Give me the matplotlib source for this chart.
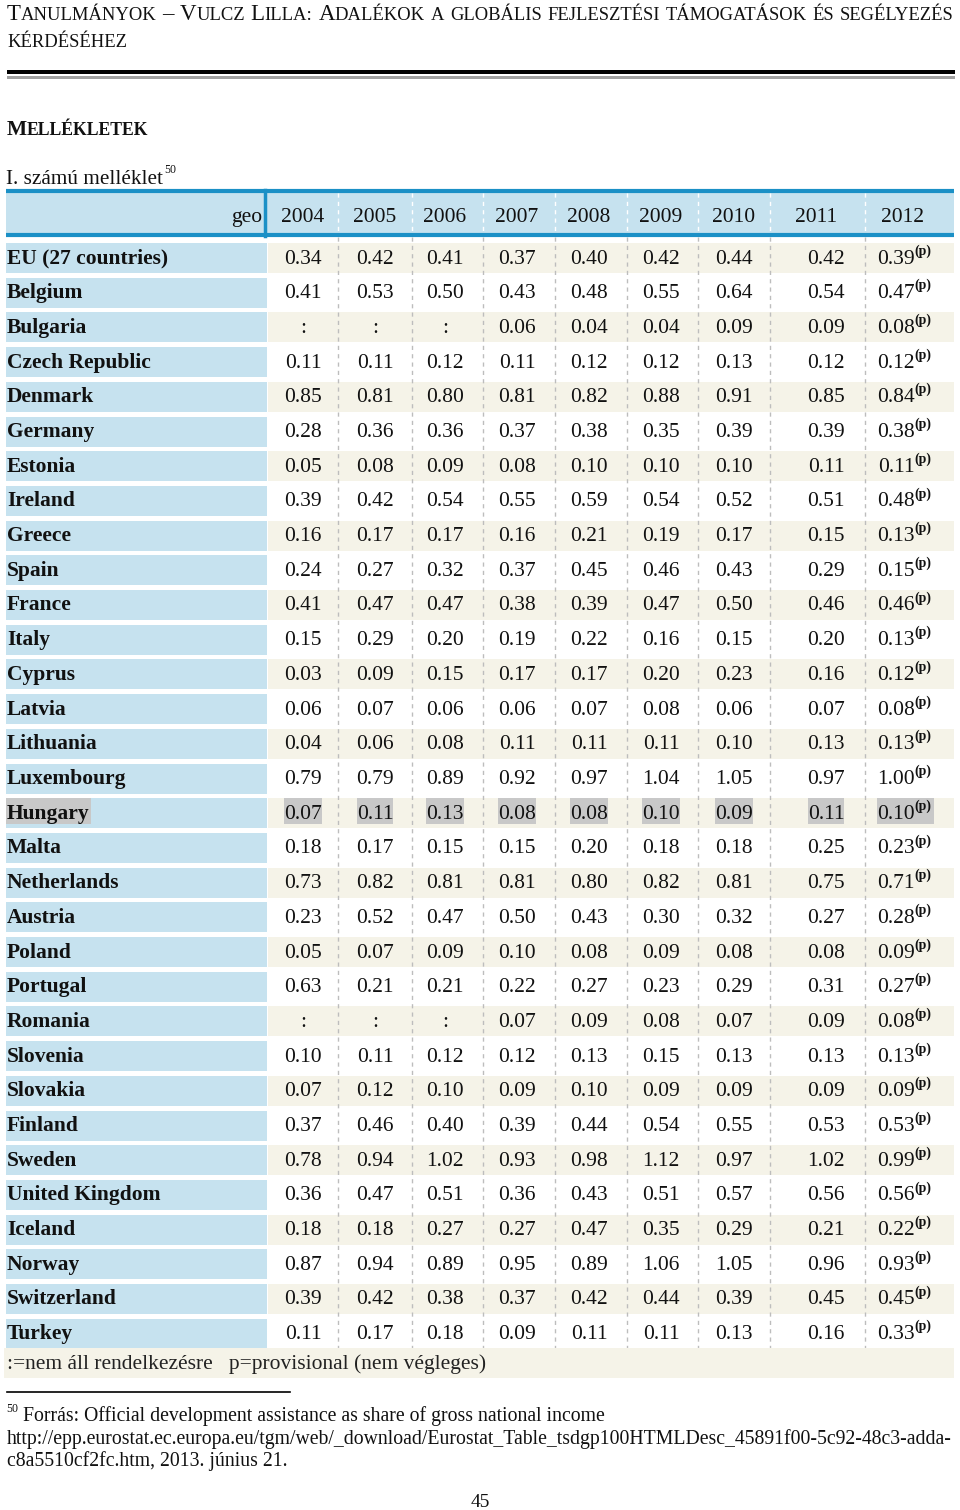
import matplotlib
matplotlib.use("Agg")
import matplotlib.pyplot as plt
from matplotlib.patches import Rectangle

FONT = "Liberation Serif"

years = ["2004", "2005", "2006", "2007", "2008", "2009", "2010", "2011", "2012"]

countries = [
    "EU (27 countries)", "Belgium", "Bulgaria", "Czech Republic", "Denmark",
    "Germany", "Estonia", "Ireland", "Greece", "Spain", "France", "Italy",
    "Cyprus", "Latvia", "Lithuania", "Luxembourg", "Hungary", "Malta",
    "Netherlands", "Austria", "Poland", "Portugal", "Romania", "Slovenia",
    "Slovakia", "Finland", "Sweden", "United Kingdom", "Iceland", "Norway",
    "Switzerland", "Turkey",
]

# None = ":" (nem áll rendelkezésre); 2012 values are provisional (p)
oda_share = [
    [0.34, 0.42, 0.41, 0.37, 0.40, 0.42, 0.44, 0.42, 0.39],
    [0.41, 0.53, 0.50, 0.43, 0.48, 0.55, 0.64, 0.54, 0.47],
    [None, None, None, 0.06, 0.04, 0.04, 0.09, 0.09, 0.08],
    [0.11, 0.11, 0.12, 0.11, 0.12, 0.12, 0.13, 0.12, 0.12],
    [0.85, 0.81, 0.80, 0.81, 0.82, 0.88, 0.91, 0.85, 0.84],
    [0.28, 0.36, 0.36, 0.37, 0.38, 0.35, 0.39, 0.39, 0.38],
    [0.05, 0.08, 0.09, 0.08, 0.10, 0.10, 0.10, 0.11, 0.11],
    [0.39, 0.42, 0.54, 0.55, 0.59, 0.54, 0.52, 0.51, 0.48],
    [0.16, 0.17, 0.17, 0.16, 0.21, 0.19, 0.17, 0.15, 0.13],
    [0.24, 0.27, 0.32, 0.37, 0.45, 0.46, 0.43, 0.29, 0.15],
    [0.41, 0.47, 0.47, 0.38, 0.39, 0.47, 0.50, 0.46, 0.46],
    [0.15, 0.29, 0.20, 0.19, 0.22, 0.16, 0.15, 0.20, 0.13],
    [0.03, 0.09, 0.15, 0.17, 0.17, 0.20, 0.23, 0.16, 0.12],
    [0.06, 0.07, 0.06, 0.06, 0.07, 0.08, 0.06, 0.07, 0.08],
    [0.04, 0.06, 0.08, 0.11, 0.11, 0.11, 0.10, 0.13, 0.13],
    [0.79, 0.79, 0.89, 0.92, 0.97, 1.04, 1.05, 0.97, 1.00],
    [0.07, 0.11, 0.13, 0.08, 0.08, 0.10, 0.09, 0.11, 0.10],
    [0.18, 0.17, 0.15, 0.15, 0.20, 0.18, 0.18, 0.25, 0.23],
    [0.73, 0.82, 0.81, 0.81, 0.80, 0.82, 0.81, 0.75, 0.71],
    [0.23, 0.52, 0.47, 0.50, 0.43, 0.30, 0.32, 0.27, 0.28],
    [0.05, 0.07, 0.09, 0.10, 0.08, 0.09, 0.08, 0.08, 0.09],
    [0.63, 0.21, 0.21, 0.22, 0.27, 0.23, 0.29, 0.31, 0.27],
    [None, None, None, 0.07, 0.09, 0.08, 0.07, 0.09, 0.08],
    [0.10, 0.11, 0.12, 0.12, 0.13, 0.15, 0.13, 0.13, 0.13],
    [0.07, 0.12, 0.10, 0.09, 0.10, 0.09, 0.09, 0.09, 0.09],
    [0.37, 0.46, 0.40, 0.39, 0.44, 0.54, 0.55, 0.53, 0.53],
    [0.78, 0.94, 1.02, 0.93, 0.98, 1.12, 0.97, 1.02, 0.99],
    [0.36, 0.47, 0.51, 0.36, 0.43, 0.51, 0.57, 0.56, 0.56],
    [0.18, 0.18, 0.27, 0.27, 0.47, 0.35, 0.29, 0.21, 0.22],
    [0.87, 0.94, 0.89, 0.95, 0.89, 1.06, 1.05, 0.96, 0.93],
    [0.39, 0.42, 0.38, 0.37, 0.42, 0.44, 0.39, 0.45, 0.45],
    [0.11, 0.17, 0.18, 0.09, 0.11, 0.11, 0.13, 0.16, 0.33],
]
highlight = "Hungary"

# layout (pixels)
col_x = [303, 375, 445, 517, 589, 661, 734, 826, 915]
head_x = [303, 375, 445, 517, 589, 661, 734, 816, 903]
col_edges = [338, 412, 483, 555, 627, 698, 770, 865]
row0, pitch = 256, 34.7
LEFT, RIGHT, SPLIT = 6, 954, 267

BLUE = "#1b90c6"
LBLUE = "#c6e2ef"
BEIGE = "#f5f3e8"

fig = plt.figure(figsize=(9.6, 15.1), dpi=100)
ax = fig.add_axes([0, 0, 1, 1])
ax.set_xlim(0, 960)
ax.set_ylim(1510, 0)
ax.axis("off")
fig.canvas.draw()
rend = fig.canvas.get_renderer()


def width(t):
    bb = t.get_window_extent(rend)
    return bb.width


def small_caps_line(x, y, text, big, small, bold=False, justify=None):
    words = text.split(" ")
    pieces = []
    for w in words:
        parts = []
        cur, cur_big = "", None
        for ch in w:
            is_big = not ch.isalpha() or ch.isupper()
            if ch in ":,.":
                is_big = cur_big if cur_big is not None else False
            if cur_big is None or is_big == cur_big:
                cur += ch
            else:
                parts.append((cur, cur_big))
                cur = ch
            cur_big = is_big
        parts.append((cur, cur_big))
        pieces.append(parts)
    wt = "bold" if bold else "normal"
    widths = []
    for parts in pieces:
        tot = 0
        for s, b in parts:
            t = ax.text(0, 0, s.upper(), fontsize=big if b else small,
                        family=FONT, weight=wt)
            tot += width(t)
            t.remove()
        widths.append(tot)
    space = big * 100 / 72 * 0.25
    if justify is not None and len(words) > 1:
        space = (justify - x - sum(widths)) / (len(words) - 1)
    cx = x
    for parts, wdt in zip(pieces, widths):
        for s, b in parts:
            t = ax.text(cx, y, s.upper(), fontsize=big if b else small,
                        family=FONT, weight=wt, va="baseline", ha="left",
                        color="#111111")
            cx += width(t)
        cx += space


# page header
small_caps_line(7, 20, "Tanulmányok – Vulcz Lilla: Adalékok a globális fejlesztési támogatások és segélyezés",
                16.5, 13.4, justify=954)
small_caps_line(7, 47, "kérdéséhez", 16.5, 13.4)
ax.add_patch(Rectangle((7, 69.5), 948, 4, color="black", lw=0))
ax.add_patch(Rectangle((7, 76), 948, 3, color="#a0a0a0", lw=0))

small_caps_line(7, 135, "Mellékletek", 15.5, 12.7, bold=True)
mel = ax.text(6, 184, "I. számú melléklet", fontsize=15.3, family=FONT, va="baseline", color="#111111")
ax.text(6 + width(mel) + 1, 173, "50", fontsize=8.5, family=FONT, va="baseline", color="#111111")

# header row
ax.add_patch(Rectangle((LEFT, 190), RIGHT - LEFT, 45, color=LBLUE, lw=0))
ax.plot([LEFT, RIGHT], [190.5, 190.5], color=BLUE, lw=3, solid_capstyle="butt")
ax.plot([LEFT, RIGHT], [235, 235], color=BLUE, lw=3, solid_capstyle="butt")
ax.plot([265, 265], [190, 236], color=BLUE, lw=2.5)
ax.text(262, 222, "geo", fontsize=15.5, family=FONT, ha="right", va="baseline", color="#111111")
for hx, yr in zip(head_x, years):
    ax.text(hx, 222, yr, fontsize=15.5, family=FONT, ha="center", va="baseline", color="#111111")

# body rows
last_c = row0
for i, (name, vals) in enumerate(zip(countries, oda_share)):
    c = row0 + pitch * i
    last_c = c
    ax.add_patch(Rectangle((LEFT, c - 13), SPLIT - LEFT, 30, color=LBLUE, lw=0))
    if i % 2 == 0:
        ax.add_patch(Rectangle((SPLIT + 1, c - 13), RIGHT - SPLIT - 1, 30, color=BEIGE, lw=0))
    hl = name == highlight
    t = ax.text(7, c + 7.5, name, fontsize=15.5, family=FONT, weight="bold",
                va="baseline", color="#111111", zorder=3)
    if hl:
        ax.add_patch(Rectangle((LEFT, c - 13), width(t) + 2, 26, color="#c8c8c8", lw=0, zorder=2))
    for j, v in enumerate(vals):
        s = ":" if v is None else f"{v:.2f}"
        if j == len(vals) - 1:
            t = ax.text(col_x[j], c + 7.5, s, fontsize=15.5, family=FONT, ha="right",
                        va="baseline", color="#111111", zorder=3)
            sp = ax.text(col_x[j] - 0.5, c - 1.5, "(p)", fontsize=10, family=FONT,
                         weight="bold", ha="left", va="baseline", color="#111111", zorder=3)
            if hl:
                x0 = col_x[j] - width(t)
                ax.add_patch(Rectangle((x0, c - 13), width(t) + width(sp) + 2, 26,
                                       color="#c8c8c8", lw=0, zorder=2))
        else:
            t = ax.text(col_x[j], c + 7.5, s, fontsize=15.5, family=FONT, ha="center",
                        va="baseline", color="#111111", zorder=3)
            if hl:
                w = width(t)
                ax.add_patch(Rectangle((col_x[j] - w / 2, c - 13), w, 26,
                                       color="#c8c8c8", lw=0, zorder=2))

# dashed column separators
bottom = last_c + 17
for ex in col_edges:
    ax.plot([ex, ex], [193, 233], color="white", lw=1, ls=(0, (3, 3)), zorder=2)
    ax.plot([ex, ex], [237, bottom], color="#bdbdbd", lw=1, ls=(0, (3, 3)), zorder=1)

# legend row
fy = last_c + 30
ax.add_patch(Rectangle((4, fy - 14), RIGHT - 4, 30, color=BEIGE, lw=0))
ax.text(7, fy + 7, ":=nem áll rendelkezésre   p=provisional (nem végleges)", fontsize=15.5,
        family=FONT, va="baseline", color="#222222")

# footnote
ax.plot([7, 290], [1392, 1392], color="black", lw=1.2)
ax.text(6, 1412, "50", fontsize=8.5, family=FONT, va="baseline", color="#111111")
ax.text(23, 1421, "Forrás: Official development assistance as share of gross national income",
        fontsize=14.2, family=FONT, va="baseline", color="#111111")
ax.text(7, 1444, "http://epp.eurostat.ec.europa.eu/tgm/web/_download/Eurostat_Table_tsdgp100HTMLDesc_45891f00-5c92-48c3-adda-",
        fontsize=14.2, family=FONT, va="baseline", color="#111111")
ax.text(7, 1466, "c8a5510cf2fc.htm, 2013. június 21.", fontsize=14.2, family=FONT,
        va="baseline", color="#111111")
ax.text(480, 1507, "45", fontsize=14, family=FONT, ha="center", va="baseline", color="#111111")

fig.savefig("out.png", dpi=100)
